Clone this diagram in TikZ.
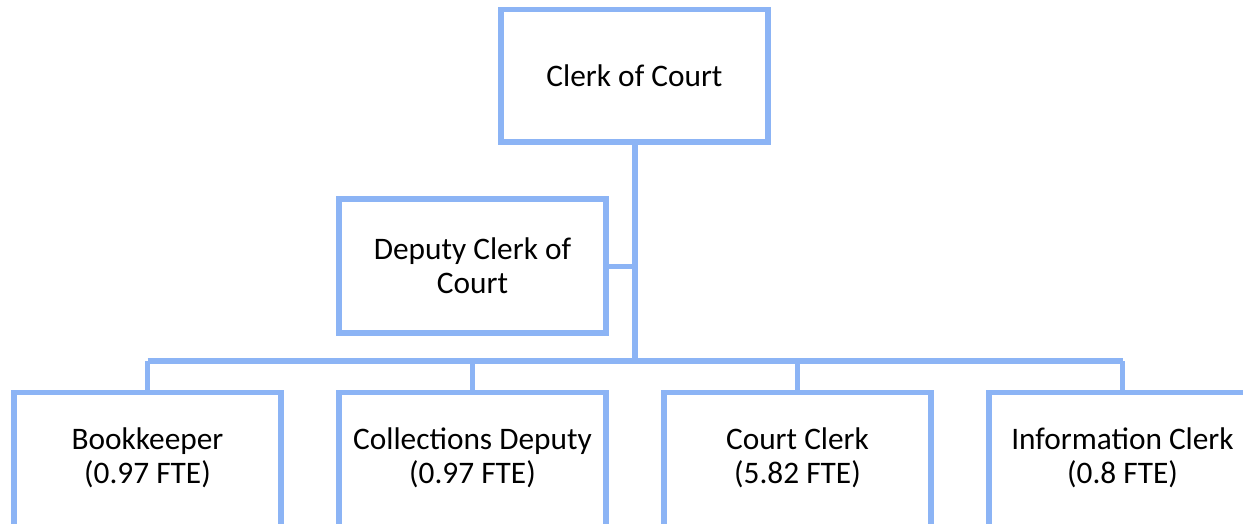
\documentclass[tikz,border=0pt]{standalone}
\usepackage{fontspec}
\setmainfont{Carlito}
\definecolor{orgblue}{RGB}{140,180,245}
\tikzset{
  box/.style={draw=orgblue, line width=4.1pt, fill=white, inner sep=0pt,
    minimum width=267*0.75pt, align=center,
    font={\fontsize{23.5pt}{25.5pt}\selectfont}},
  txt/.style={inner sep=0pt, align=center, font={\fontsize{23.5pt}{25.5pt}\selectfont}},
  conn/.style={draw=orgblue, line width=4.1pt}
}
\begin{document}
\begin{tikzpicture}[x=0.75pt, y=-0.75pt]
\useasboundingbox (0,0) rectangle (1243,524);
\fill[white] (0,0) rectangle (1243,524);
% connectors
\coordinate (bus) at (635,361);
\coordinate (busL) at (147.5,361);
\coordinate (busR) at (1122.5,361);
\coordinate (dj) at (635,266.5);
\node[box, minimum height=132.5*0.75pt] (top) at (634.5,75.75) {Clerk of Court};
\node[box, minimum height=134*0.75pt] (dep) at (472.5,266) {Deputy Clerk of\\Court};
\node[box, minimum height=150*0.75pt, anchor=north] (b1) at (147.5,390) {};
\node[box, minimum height=150*0.75pt, anchor=north] (b2) at (472.5,390) {};
\node[box, minimum height=150*0.75pt, anchor=north] (b3) at (797.5,390) {};
\node[box, minimum height=150*0.75pt, anchor=north] (b4) at (1122.5,390) {};
\node[txt] (t1) at (147.5,458) {Bookkeeper\\(0.97 FTE)};
\node[txt] (t2) at (472.5,458) {Collections Deputy\\(0.97 FTE)};
\node[txt] (t3) at (797.5,458) {Court Clerk\\(5.82 FTE)};
\node[txt] (t4) at (1122.5,458) {Information Clerk\\(0.8 FTE)};
\draw[conn] (top.south -| bus) -- (bus);
\draw[conn] (dep.east |- dj) -- (dj);
\draw[conn] (busL) -- (busR);
\draw[conn] (busL) -- (b1.north);
\draw[conn] (b2.north |- bus) -- (b2.north);
\draw[conn] (b3.north |- bus) -- (b3.north);
\draw[conn] (busR) -- (b4.north);
\end{tikzpicture}
\end{document}
